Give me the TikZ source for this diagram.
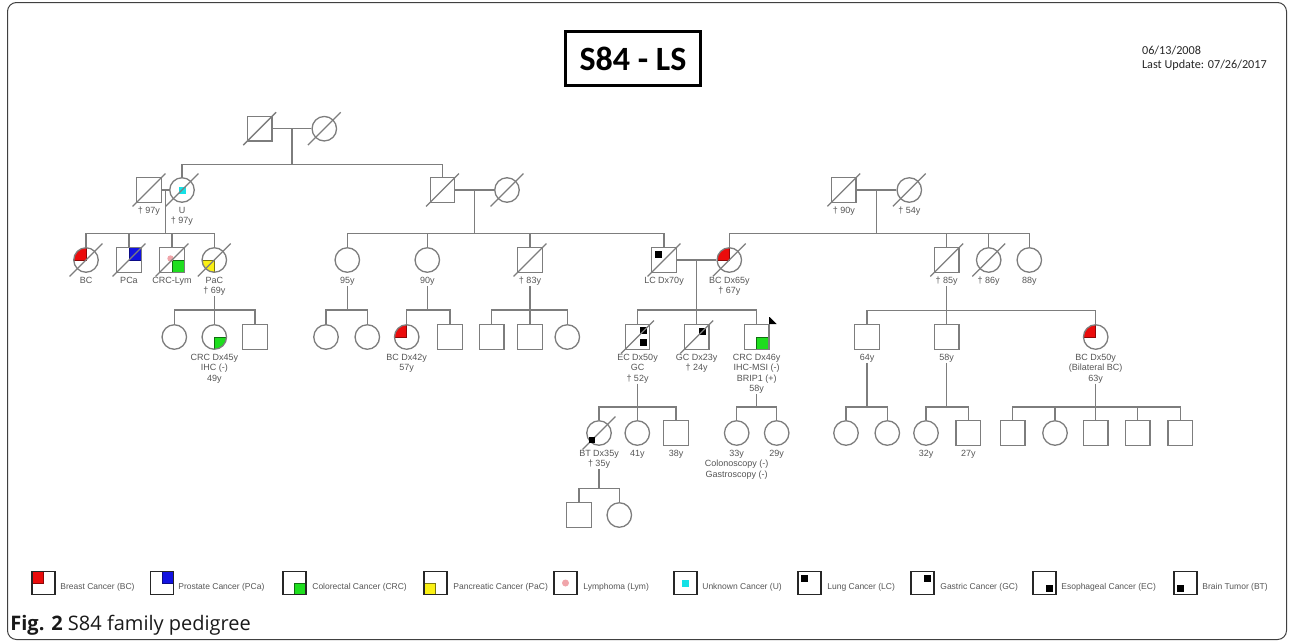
\documentclass[tikz,border=0pt]{standalone}
\usepackage{fontspec}
\setmainfont{Liberation Sans}
\newfontfamily\titlefont{Carlito}
\newfontfamily\capfont{Open Sans}
\usepackage{tikz}
\tikzset{every picture/.style={line width=0.75pt}}
\definecolor{pedline}{RGB}{125,125,125}
\definecolor{pedtext}{RGB}{85,85,85}
\definecolor{bcred}{RGB}{235,12,12}
\definecolor{pcablue}{RGB}{18,18,225}
\definecolor{crcgreen}{RGB}{30,222,30}
\definecolor{pacyellow}{RGB}{250,240,20}
\definecolor{lympink}{RGB}{240,165,170}
\definecolor{ucyan}{RGB}{20,225,230}
\tikzset{
  male/.style={rectangle, draw=pedline, line width=1.3pt, minimum size=24.5pt, inner sep=0pt},
  female/.style={circle, draw=pedline, line width=1.3pt, minimum size=24.5pt, inner sep=0pt},
  pline/.style={draw=pedline, line width=1.3pt},
  lbl/.style={text=pedtext, font=\fontsize{9}{10.3}\selectfont, align=center, inner sep=0pt, anchor=north},
  keybox/.style={rectangle, draw=black!85, line width=1.2pt, minimum size=23pt, inner sep=0pt},
  keytxt/.style={text=pedtext, font=\fontsize{8.5}{10}\selectfont, inner sep=0pt, anchor=base west},
  mBC/.style={path picture={\filldraw[fill=bcred, draw=bcred!60!black, line width=0.6pt] (path picture bounding box.center) rectangle (path picture bounding box.north west);}},
  mPCa/.style={path picture={\filldraw[fill=pcablue, draw=pcablue!60!black, line width=0.6pt] (path picture bounding box.center) rectangle (path picture bounding box.north east);}},
  mCRC/.style={path picture={\filldraw[fill=crcgreen, draw=crcgreen!50!black, line width=0.6pt] (path picture bounding box.center) rectangle (path picture bounding box.south east);}},
  mPaC/.style={path picture={\filldraw[fill=pacyellow, draw=pacyellow!50!black, line width=0.6pt] (path picture bounding box.center) rectangle (path picture bounding box.south west);}},
  mCRCLym/.style={path picture={\filldraw[fill=crcgreen, draw=crcgreen!50!black, line width=0.6pt] (path picture bounding box.center) rectangle (path picture bounding box.south east);
    \fill[lympink] ([shift={(-1.5,-1.5)}]path picture bounding box.center) circle[radius=3.2pt];}},
  mLym/.style={path picture={\fill[lympink] (path picture bounding box.center) circle[radius=3.5pt];}},
  mU/.style={path picture={\fill[ucyan] ([shift={(-3.5,-3.5)}]path picture bounding box.center) rectangle ++(7,7);}},
  mLC/.style={path picture={\fill[black] ([shift={(3,3)}]path picture bounding box.north west) rectangle ++(7,7);}},
  mGC/.style={path picture={\fill[black] ([shift={(-10,3)}]path picture bounding box.north east) rectangle ++(7,7);}},
  mEC/.style={path picture={\fill[black] ([shift={(-10,-10)}]path picture bounding box.south east) rectangle ++(7,7);}},
  mGCEC/.style={path picture={\fill[black] ([shift={(-10,2)}]path picture bounding box.north east) rectangle ++(7,7);
    \fill[black] ([shift={(-10,-10)}]path picture bounding box.south east) rectangle ++(7,7);}},
  mBTkey/.style={path picture={\fill[black] ([shift={(3,-10)}]path picture bounding box.south west) rectangle ++(7,7);}}
}
\newcommand{\deceased}[1]{\draw[pline] ([shift={(-16.4,16.4)}]#1.center) -- ([shift={(16.4,-16.4)}]#1.center);}

\begin{document}
\begin{tikzpicture}[x=1pt,y=-1pt]
\useasboundingbox (0,0) rectangle (1292,641);

%Shape: Frame
\draw[black!75, line width=1pt, rounded corners=9pt] (7.5,2.5) rectangle (1286.5,639.5);

%Title and dates
\node[draw=black, line width=3pt, minimum width=134.5pt, minimum height=54.5pt, inner sep=0pt, font=\titlefont\bfseries\fontsize{34}{34}\selectfont] (title) at (633,58.7) {S84 - LS};
\node[anchor=base west, inner sep=0pt, text=black!85, font=\titlefont\fontsize{12.2}{14}\selectfont] (date1) at (1141.7,54) {06/13/2008};
\node[anchor=base west, inner sep=0pt, text=black!85, font=\titlefont\fontsize{12.2}{14}\selectfont] (date2) at (1141.7,68) {Last Update: 07/26/2017};

%Generation I
\node[male] (f1) at (259.7,128.7) {};
\node[female] (f2) at (324.3,128.7) {};

%Generation II
\node[male] (lm) at (149,190) {};
\node[female, mU] (lf) at (182,190) {};
\node[male] (mm) at (442.5,190) {};
\node[female] (mf) at (507,190) {};
\node[male] (rm) at (843.8,190) {};
\node[female] (rf) at (909.3,190) {};
\node[lbl] (tlm) at ([yshift=-17pt]lm.center) {† 97y};
\node[lbl] (tlf) at ([yshift=-17pt]lf.center) {U\\† 97y};
\node[lbl] (trm) at ([yshift=-17pt]rm.center) {† 90y};
\node[lbl] (trf) at ([yshift=-17pt]rf.center) {† 54y};

%Generation III
\node[female, mBC] (bc) at (86,260) {};
\node[male, mPCa] (pca) at (129,260) {};
\node[male, mCRCLym] (crcl) at (172,260) {};
\node[female, mPaC] (pac) at (214.3,260) {};
\node[female] (a95) at (347.3,260) {};
\node[female] (a90) at (427.3,260) {};
\node[male] (a83) at (530,260) {};
\node[male, mLC] (lc) at (664,260) {};
\node[female, mBC] (bc65) at (729.3,260) {};
\node[male] (a85) at (946.7,260) {};
\node[female] (a86) at (988.7,260) {};
\node[female] (a88) at (1029.3,260) {};
\node[lbl] (tbc) at ([yshift=-17pt]bc.center) {BC};
\node[lbl] (tpca) at ([yshift=-17pt]pca.center) {PCa};
\node[lbl] (tcrcl) at ([yshift=-17pt]crcl.center) {CRC-Lym};
\node[lbl] (tpac) at ([yshift=-17pt]pac.center) {PaC\\† 69y};
\node[lbl] (ta95) at ([yshift=-17pt]a95.center) {95y};
\node[lbl] (ta90) at ([yshift=-17pt]a90.center) {90y};
\node[lbl] (ta83) at ([yshift=-17pt]a83.center) {† 83y};
\node[lbl] (tlc) at ([yshift=-17pt]lc.center) {LC Dx70y};
\node[lbl] (tbc65) at ([yshift=-17pt]bc65.center) {BC Dx65y\\† 67y};
\node[lbl] (ta85) at ([yshift=-17pt]a85.center) {† 85y};
\node[lbl] (ta86) at ([yshift=-17pt]a86.center) {† 86y};
\node[lbl] (ta88) at ([yshift=-17pt]a88.center) {88y};

%Generation IV
\node[female] (p1) at (174.3,337) {};
\node[female, mCRC] (crc45) at (214.3,337) {};
\node[male] (p3) at (255,337) {};
\node[female] (n1) at (326,337) {};
\node[female] (n2) at (367.3,337) {};
\node[female, mBC] (bc42) at (406.7,337) {};
\node[male] (n4) at (450,337) {};
\node[male] (o1) at (491.7,337) {};
\node[male] (o2) at (530,337) {};
\node[female] (o3) at (567.3,337) {};
\node[male, mGCEC] (ec) at (637.5,337) {};
\node[male, mGC] (gc23) at (696.7,337) {};
\node[male, mCRC] (crc46) at (756.7,337) {};
\node[male] (s64) at (867,337) {};
\node[male] (s58) at (946.7,337) {};
\node[female, mBC] (bc50) at (1095.7,337) {};
\node[lbl] (tcrc45) at ([yshift=-17pt]crc45.center) {CRC Dx45y\\IHC (-)\\49y};
\node[lbl] (tbc42) at ([yshift=-17pt]bc42.center) {BC Dx42y\\57y};
\node[lbl] (tec) at ([yshift=-17pt]ec.center) {EC Dx50y\\GC\\† 52y};
\node[lbl] (tgc23) at ([yshift=-17pt]gc23.center) {GC Dx23y\\† 24y};
\node[lbl] (tcrc46) at ([yshift=-17pt]crc46.center) {CRC Dx46y\\IHC-MSI (-)\\BRIP1 (+)\\58y};
\node[lbl] (ts64) at ([yshift=-17pt]s64.center) {64y};
\node[lbl] (ts58) at ([yshift=-17pt]s58.center) {58y};
\node[lbl] (tbc50) at ([yshift=-17pt]bc50.center) {BC Dx50y\\(Bilateral BC)\\63y};

%Generation V
\node[female] (bt) at (599,433) {};
\node[female] (a41) at (637.3,433) {};
\node[male] (a38) at (676,433) {};
\node[female] (a33) at (736.7,433) {};
\node[female] (a29) at (776.7,433) {};
\node[female] (k1) at (846,433) {};
\node[female] (k2) at (887.3,433) {};
\node[female] (a32) at (926,433) {};
\node[male] (a27) at (968.3,433) {};
\node[male] (q1) at (1012.7,433) {};
\node[female] (q2) at (1055,433) {};
\node[male] (q3) at (1095.7,433) {};
\node[male] (q4) at (1137.8,433) {};
\node[male] (q5) at (1180.3,433) {};
\node[lbl] (tbt) at ([yshift=-17pt]bt.center) {BT Dx35y\\† 35y};
\node[lbl] (ta41) at ([yshift=-17pt]a41.center) {41y};
\node[lbl] (ta38) at ([yshift=-17pt]a38.center) {38y};
\node[lbl] (ta33) at ([yshift=-17pt]a33.center) {33y\\Colonoscopy (-)\\Gastroscopy (-)};
\node[lbl] (ta29) at ([yshift=-17pt]a29.center) {29y};
\node[lbl] (ta32) at ([yshift=-17pt]a32.center) {32y};
\node[lbl] (ta27) at ([yshift=-17pt]a27.center) {27y};

%Generation VI
\node[male] (r1) at (579,515) {};
\node[female] (r2) at (619.3,515) {};

%Straight Lines: couples
\draw[pline] (f1.east) -- coordinate (cf) (f2.west);
\draw[pline] (lm.east) -- coordinate (cl) (lf.west);
\draw[pline] (mm.east) -- coordinate (cm) (mf.west);
\draw[pline] (rm.east) -- coordinate (cr) (rf.west);
\draw[pline] (lc.east) -- coordinate (cc) (bc65.west);
\path (cf) ++(0,35.6) coordinate (sf);
\path (cl) ++(0,43.3) coordinate (sl);
\path (cm) ++(0,43.3) coordinate (sm);
\path (cr) ++(0,43.3) coordinate (sr);
\path (cc) ++(0,50) coordinate (sc);
\path (pac.center) ++(0,50) coordinate (spac);
\path (a95.center) ++(0,50) coordinate (s95);
\path (a90.center) ++(0,50) coordinate (s90);
\path (a83.center) ++(0,50) coordinate (s83);
\path (a85.center) ++(0,50.7) coordinate (s85);
\path (ec.center) ++(0,70) coordinate (sec);
\path (crc46.center) ++(0,70) coordinate (s46);
\path (s64.center) ++(0,70) coordinate (ss64);
\path (s58.center) ++(0,70) coordinate (ss58);
\path (bc50.center) ++(0,70) coordinate (s50);
\path (bt.center) ++(0,55.5) coordinate (sbt);

%Straight Lines: sibships
\draw[pline] (cf) -- (sf) -| (lf.north) (sf) -| (mm.north);
\draw[pline] (cl) -- (sl) -| (bc.north) (sl) -| (pca.north) (sl) -| (crcl.north) (sl) -| (pac.north);
\draw[pline] (cm) -- (sm) -| (a95.north) (sm) -| (a90.north) (sm) -| (a83.north) (sm) -| (lc.north);
\draw[pline] (cr) -- (sr) -| (bc65.north) (sr) -| (a85.north) (sr) -| (a86.north) (sr) -| (a88.north);
\draw[pline] (cc) -- (sc) -| (ec.north) (sc) -| (gc23.north) (sc) -| (crc46.north);
\draw[pline] (tpac.south) -- (spac) -| (p1.north) (spac) -| (crc45.north) (spac) -| (p3.north);
\draw[pline] (ta95.south) -- (s95) -| (n1.north) (s95) -| (n2.north);
\draw[pline] (ta90.south) -- (s90) -| (bc42.north) (s90) -| (n4.north);
\draw[pline] (ta83.south) -- (s83) -| (o1.north) (s83) -| (o2.north) (s83) -| (o3.north);
\draw[pline] (ta85.south) -- (s85) -| (s64.north) (s85) -| (s58.north) (s85) -| (bc50.north);
\draw[pline] (tec.south) -- (sec) -| (bt.north) (sec) -| (a41.north) (sec) -| (a38.north);
\draw[pline] (tcrc46.south) -- (s46) -| (a33.north) (s46) -| (a29.north);
\draw[pline] (ts64.south) -- (ss64) -| (k1.north) (ss64) -| (k2.north);
\draw[pline] (ts58.south) -- (ss58) -| (a32.north) (ss58) -| (a27.north);
\draw[pline] (tbc50.south) -- (s50) -| (q1.north) (s50) -| (q2.north) (s50) -| (q3.north) (s50) -| (q4.north) (s50) -| (q5.north);
\draw[pline] (tbt.south) -- (sbt) -| (r1.north) (sbt) -| (r2.north);

%Deceased
\deceased{f1} \deceased{f2}
\deceased{lm} \deceased{lf} \deceased{mm} \deceased{mf} \deceased{rm} \deceased{rf}
\deceased{bc} \deceased{pca} \deceased{crcl} \deceased{pac}
\deceased{a83} \deceased{lc} \deceased{bc65} \deceased{a85} \deceased{a86}
\deceased{ec} \deceased{gc23} \deceased{bt}

%Brain tumor mark and proband arrow
\fill[black] ([shift={(-10,4)}]bt.center) rectangle ++(6,6);
\draw[black, line width=1pt] (crc46.north east) -- ++(0,-7);
\fill[black] (crc46.north east) -- ++(0,-7) -- ++(7,7) -- cycle;

%Legend
\node[keybox, mBC] (kbc) at (43.5,583) {};
\node[keytxt] (tkbc) at (60,589) {Breast Cancer (BC)};
\node[keybox, mPCa] (kpca) at (162,583) {};
\node[keytxt] (tkpca) at (178,589) {Prostate Cancer (PCa)};
\node[keybox, mCRC] (kcrc) at (294.5,583) {};
\node[keytxt] (tkcrc) at (312,589) {Colorectal Cancer (CRC)};
\node[keybox, mPaC] (kpac) at (435.5,583) {};
\node[keytxt] (tkpac) at (453,589) {Pancreatic Cancer (PaC)};
\node[keybox, mLym] (klym) at (565.5,583) {};
\node[keytxt] (tklym) at (583,589) {Lymphoma (Lym)};
\node[keybox, mU] (ku) at (685.5,583) {};
\node[keytxt] (tku) at (702,589) {Unknown Cancer (U)};
\node[keybox, mLC] (klc) at (809.5,583) {};
\node[keytxt] (tklc) at (827,589) {Lung Cancer (LC)};
\node[keybox, mGC] (kgc) at (922.5,583) {};
\node[keytxt] (tkgc) at (940,589) {Gastric Cancer (GC)};
\node[keybox, mEC] (kec) at (1044.5,583) {};
\node[keytxt] (tkec) at (1061,589) {Esophageal Cancer (EC)};
\node[keybox, mBTkey] (kbt) at (1185.5,583) {};
\node[keytxt] (tkbt) at (1202,589) {Brain Tumor (BT)};

%Caption
\node[anchor=base west, inner sep=0pt, text=black!90, font=\capfont\fontsize{20}{22}\selectfont] (cap) at (10,630) {\textbf{Fig. 2} S84 family pedigree};
\end{tikzpicture}
\end{document}
